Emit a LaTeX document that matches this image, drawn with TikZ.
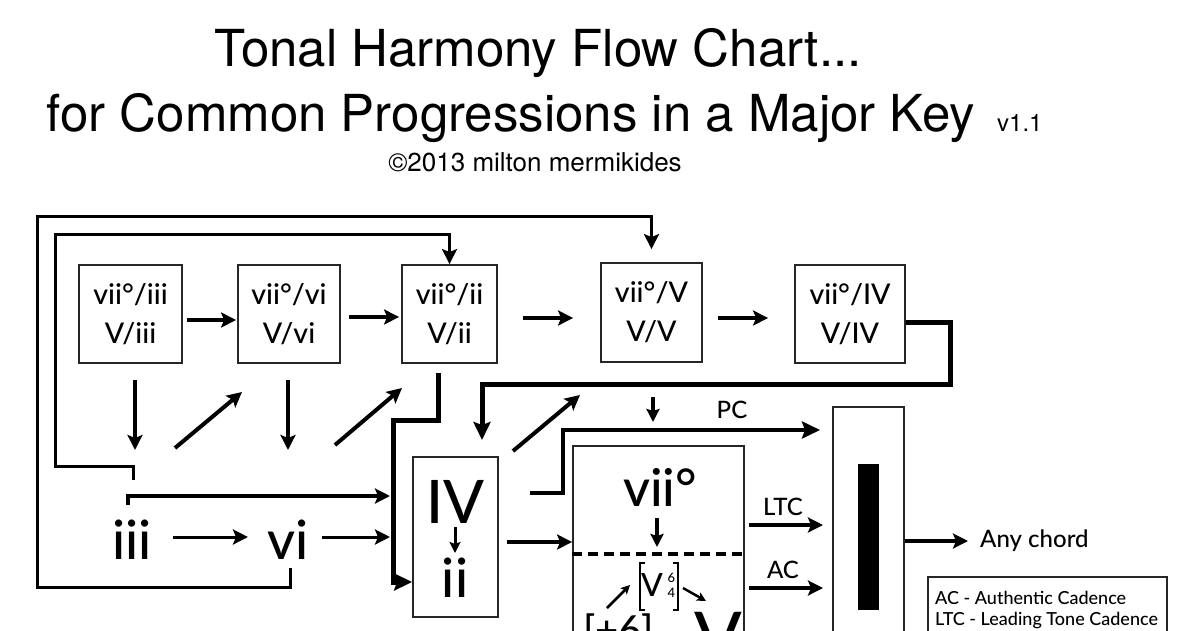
\documentclass[tikz,border=0pt]{standalone}
\usepackage{fontspec}
\setmainfont{Lato Medium}
\newfontfamily\titlefont{TeX Gyre Heros}
\usetikzlibrary{arrows.meta}
\newcommand\myfs[2]{\fontsize{#1}{#2}\selectfont}
\begin{document}
\begin{tikzpicture}[x=1pt,y=-1pt,
  box/.style={draw=black!85, line width=1.8pt, inner sep=0pt, align=center, font=\myfs{28.5}{39}},
  headA/.style={-{Stealth[length=15pt,width=15pt,inset=3pt]}},
  headB/.style={-{Stealth[length=18pt,width=17pt,inset=3pt]}},
  headC/.style={-{Stealth[length=9pt,width=9pt,inset=2pt]}},
  arr/.style={line width=4pt, headA},
  loopl/.style={line width=3pt},
  heavy/.style={line width=5pt},
  big/.style={inner sep=0pt},
  lbl/.style={inner sep=0pt, font=\myfs{24}{24}},
  titletext/.style={inner sep=0pt, font=\titlefont\myfs{51}{51}}
]
\useasboundingbox (0,0) rectangle (1200,630);
\clip (0,0) rectangle (1200,630);

% titles
\node[titletext, anchor=base] (t1) at (538,66) {Tonal Harmony Flow Chart...};
\node[titletext, anchor=base] (t2) at (511,131) {for Common Progressions in a Major Key};
\node[inner sep=0pt, anchor=base west, font=\titlefont\myfs{24}{24}] (ver) at (997,131) {v1.1};
\node[inner sep=0pt, anchor=base, font=\titlefont\myfs{26}{26}] (cr) at (535,171) {©2013 milton mermikides};

% top row boxes
\node[box, minimum width=103pt, minimum height=98pt] (b1) at (130.5,314) {vii°/iii\\V/iii};
\node[box, minimum width=102pt, minimum height=98pt] (b2) at (289,314) {vii°/vi\\V/vi};
\node[box, minimum width=95pt, minimum height=98pt] (b3) at (449.5,314) {vii°/ii\\V/ii};
\node[box, minimum width=101pt, minimum height=99pt] (b4) at (651.5,312.5) {vii°/V\\V/V};
\node[box, minimum width=110pt, minimum height=98pt] (b5) at (850,314) {vii°/IV\\V/IV};

\draw[arr, shorten <=4pt, shorten >=1pt] ([yshift=-6pt]b1.east) -- ([yshift=-6pt]b2.west);
\draw[arr, shorten <=8pt, shorten >=2pt] ([yshift=-3pt]b2.east) -- ([yshift=-3pt]b3.west);
\draw[arr, shorten <=25pt, shorten >=27pt] ([yshift=-4pt]b3.east) -- ([yshift=-5.5pt]b4.west);
\draw[arr, shorten <=15pt, shorten >=26pt] ([yshift=-5.5pt]b4.east) -- ([yshift=-4pt]b5.west);

% iii and vi
\node[big, font=\myfs{54}{54}] (iii) at (132,540) {iii};
\node[big, font=\myfs{54}{54}] (vi) at (288,540) {vi};

% second row arrows
\coordinate (d1s) at (135,380); \coordinate (d1e) at (135,450);
\coordinate (u1s) at (175,448); \coordinate (u1e) at (242,392);
\coordinate (d2s) at (288,380); \coordinate (d2e) at (288,450);
\coordinate (u2s) at (335,445); \coordinate (u2e) at (402,388);
\coordinate (u3s) at (513,451); \coordinate (u3e) at (580,395);
\draw[arr] (d1s) -- (d1e);
\draw[arr] (u1s) -- (u1e);
\draw[arr] (d2s) -- (d2e);
\draw[arr] (u2s) -- (u2e);
\draw[arr] (u3s) -- (u3e);

% loops
\coordinate (o0) at (290,568);
\draw[loopl, headA, shorten >=13pt] (o0) -- (290,587) -- (37,587) -- (37,216) -| (b4.north);
\coordinate (i0) at (133,480);
\draw[loopl, headA] (i0) -- (133,466) -- (55,466) -- (55,234) -| (b3.north);

% iii to IV
\coordinate (j0) at (128,505);
\coordinate (j1) at (390,496);
\draw[loopl, line width=3.5pt, headA] (j0) |- (j1);
\coordinate (k0) at (173,537); \coordinate (k1) at (248,537);
\draw[line width=3pt, headA] (k0) -- (k1);
\coordinate (k2) at (322,537); \coordinate (k3) at (390,537);
\draw[line width=3pt, headA] (k2) -- (k3);

% IV / ii box
\node[box, minimum width=85pt, minimum height=160pt] (IVbox) at (455.5,537) {};
\node[big, font=\myfs{60}{60}] (IV) at (455,502) {IV};
\node[big, font=\myfs{54}{54}] (ii) at (455,578) {ii};
\draw[line width=3pt, -{Stealth[length=11pt,width=11pt,inset=2pt]}] (455,527) -- (455,553);

% from vii/ii down to ii
\coordinate (m0) at (438,373);
\draw[heavy, headB] (m0) -- (438,420) -- (393,420) -- (393,582) -- (IVbox.west |- 0,582);

% from vii/IV to IV box
\draw[heavy, headB] (b5.east |- 0,322) -- (950,322) -- (950,384) -- (482,384) -- (482,440);

% vii box
\node[box, minimum width=171pt, minimum height=204pt] (viibox) at (658.5,548) {};
\node[big, font=\myfs{52}{52}] (vii) at (660,487) {vii°};
\draw[line width=3.5pt, -{Stealth[length=13pt,width=13pt,inset=2pt]}] (657,518) -- (657,547);
\draw[line width=4pt, dash pattern=on 10pt off 6pt] (viibox.west |- 0,554) -- (viibox.east |- 0,554);

% V 6 4
\node[big, font=\myfs{32}{32}] (V64) at (652,585) {V};
\node[big, align=center, font=\myfs{13}{15}] (sixfour) at (671.5,585.5) {6\\4};
\draw[line width=2pt] (645,563) -- (640,563) -- (640,610) -- (645,610);
\draw[line width=2pt] (673,563) -- (678,563) -- (678,610) -- (673,610);
\draw[line width=2.5pt, headC] (607,608) -- (630,585);
\draw[line width=2.5pt, headC] (683,588) -- (706,601);
\node[big, anchor=north west, font=\myfs{40}{40}] (aug) at (583,614) {[+6]};
\node[big, anchor=north, font=\myfs{70}{70}] (Vbig) at (718,612) {V};

% IV box -> vii box
\draw[arr, line width=3.5pt] (507,542) -- (viibox.west |- 0,542);

% PC
\node[lbl] (pc) at (732,410) {PC};
\draw[line width=3.5pt, -{Stealth[length=13pt,width=13pt,inset=2pt]}] (653,397) -- (653,422);
\draw[heavy, line width=4.5pt, headB] (530,493) -- (563,493) -- (563,430) -- (820,430);

% LTC / AC
\node[lbl] (ltc) at (783,507) {LTC};
\node[lbl] (ac) at (783,570) {AC};
\draw[arr] (viibox.east |- 0,525) ++(4,0) -- (823,525);
\draw[arr] (viibox.east |- 0,588) ++(4,0) -- (823,588);

% tall box
\node[box, minimum width=71pt, minimum height=243pt] (tall) at (868.5,528.5) {};
\fill (858,464) rectangle (879,610);

% any chord
\node[lbl, anchor=west] (any) at (980,541) {Any chord};
\draw[arr] (tall.east |- 0,541) -- (968,541);

% legend
\node[box, minimum width=239pt, minimum height=73pt] (leg) at (1047.5,613.5) {};
\node[inner sep=0pt, anchor=base west, font=\myfs{18}{21}] (l1) at (935,604) {AC - Authentic Cadence};
\node[inner sep=0pt, anchor=base west, font=\myfs{18}{21}] (l2) at (935,625) {LTC - Leading Tone Cadence};
\end{tikzpicture}
\end{document}
